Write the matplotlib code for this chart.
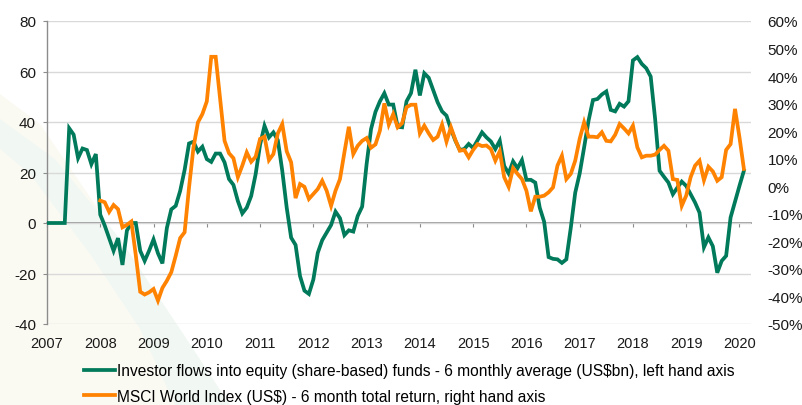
import matplotlib
matplotlib.use("Agg")
import matplotlib.pyplot as plt
from matplotlib.patches import Polygon
import numpy as np

plt.rcParams['font.family'] = ['Liberation Sans', 'DejaVu Sans']
plt.rcParams['axes.unicode_minus'] = False

# ---- data ----
years = list(range(2007, 2021))
flows_start_year = 2007  # monthly, starting Jan 2007
flows = [0, 0, 0, 0, 0, 37.5, 35, 25.7, 29.5, 28.9, 23.3, 27.3,
         3.3, -1, -6, -11, -6, -16.6, -3, 0, 0, -11, -15, -11,
         -6.5, -12, -16, -2, 5.4, 6.8, 12.7, 21, 31.5, 32.2, 28.3, 30.2,
         25.3, 24.2, 27.5, 27.5, 24, 17.4, 15.1, 8.7, 3.8, 6.1, 10.7, 19.3,
         31, 38.5, 33.9, 35.9, 32.8, 20.7, 6.1, -5.8, -8.7, -21, -26.8, -28.1,
         -22.4, -11.8, -6.8, -3.8, -0.8, 4.5, 1.9, -4.8, -2.9, -3.4, 2.8, 6.5,
         23.3, 37.2, 44, 48.2, 51.4, 46.9, 46.9, 38.1, 37.9, 48.2, 51.4, 60.7,
         50.5, 59.3, 57.5, 52.7, 47.8, 44.2, 42.5, 37.2, 32.6, 28.9, 29.3, 31.3,
         29.7, 32.8, 35.9, 33.9, 32.3, 29.3, 32.6, 22.6, 19.6, 24.4, 21.7, 24.9,
         17.1, 17.1, 16, 6.1, 0.5, -13.5, -14.2, -14.4, -15.8, -14.4, -1.9, 12,
         19.6, 29.9, 40.5, 48.7, 49.1, 50.9, 52.1, 44.8, 44.2, 47.2, 46.1, 48.2,
         64.4, 65.7, 63, 61.3, 58, 41.2, 20.7, 18.3, 16, 11.4, 14, 16.4,
         14.7, 11.4, 8.1, 4.1, -9.6, -5.7, -9.2, -19.7, -15, -13, 2.2, 8.5,
         14.7, 20.7]

msci_start_year = 2008  # monthly, starting Jan 2008
msci = [-5.2, -5.8, -9.3, -6.8, -8.3, -14.9, -14, -12.8, -25, -38.3, -39.3, -38.5,
        -37.3, -41.5, -36.9, -34.3, -31.2, -25.2, -18.8, -16.7, -0.4, 14.1, 23.2, 26.2,
        30.8, 47, 47, 31.7, 16.5, 12, 10.2, 3.3, 7.5, 12.3, 8.9, 10.7,
        17.2, 18, 9.5, 11.7, 19.2, 22.6, 12.7, 8.7, -4.3, 0.8, -0.2, -4.6,
        -2.8, -1, 2, -1.6, -7.1, -1.6, 2.6, 12.3, 21.6, 11.7, 14.7, 16.5,
        17.5, 14, 15.2, 20.2, 30.1, 22.4, 26.2, 21.4, 22.9, 28.7, 29.6, 29.6,
        19.2, 22, 19.2, 16.8, 18, 22.4, 16.2, 21.4, 16.8, 12.9, 13.2, 10.5,
        13.2, 15.3, 14.6, 14.8, 13.5, 9.3, 12.7, 3.3, -0.2, 6.6, 4.5, 2.6,
        -1.6, -9.1, -3.8, -3.8, -3.4, -2.2, -0.4, 7.5, 11.1, 2.6, 4.5, 9.3,
        17.2, 23.2, 18, 18, 17.8, 19.6, 16.5, 16.3, 18.7, 22.6, 21, 19.2,
        22, 14.1, 10.5, 11.1, 11.1, 11.5, 13.2, 14.7, 12.9, 2.6, 2.3, -7.1,
        -3.4, 3.3, 7.5, 9.3, 2.2, 7.1, 5.4, 2, 3.3, 13.2, 15.3, 28.1,
        17.8, 6.3]

left_ticks = list(range(-40, 81, 20))
right_ticks = list(range(-50, 61, 10))

label_flows = "Investor flows into equity (share-based) funds - 6 monthly average (US$bn), left hand axis"
label_msci = "MSCI World Index (US$) - 6 month total return, right hand axis"

GREEN = '#007A5A'
ORANGE = '#FF8200'

# ---- figure ----
W, H = 803, 406
fig = plt.figure(figsize=(W / 100, H / 100), dpi=100)

def figpoly(pts, color):
    p = Polygon([(x / W, 1 - y / H) for x, y in pts], closed=True,
                transform=fig.transFigure, facecolor=color, edgecolor='none', zorder=-5)
    fig.patches.append(p)

# faint decorative background swoosh
figpoly([(0, 95), (40, 125), (105, 220), (165, 320), (215, 406), (0, 406)], '#FBFAF2')
figpoly([(0, 150), (30, 175), (90, 255), (140, 330), (175, 406), (230, 406),
         (180, 330), (120, 240), (55, 160), (0, 120)], '#F1F7F3')

ax = fig.add_axes([47 / W, 1 - 325 / H, (751 - 47) / W, (325 - 22) / H])
ax.set_facecolor('none')

t_flows = flows_start_year + np.arange(len(flows)) / 12
t_msci = msci_start_year + np.arange(len(msci)) / 12

l1, = ax.plot(t_flows, flows, color=GREEN, lw=2.7, solid_joinstyle='miter', zorder=3)
ax.set_ylim(-40, 80)
ax.set_xlim(2007, 2007 + len(flows) / 12 + 0.05)
ax.set_yticks(left_ticks)
ax.set_yticklabels([str(v) for v in left_ticks])
ax.set_xticks(years)
ax.set_xticklabels([str(y) for y in years])
ax.grid(axis='y', color='#D9D9D9', lw=1.0, zorder=0)
ax.set_axisbelow(True)
for s in ['top', 'right', 'bottom']:
    ax.spines[s].set_visible(False)
ax.spines['left'].set_color('#8C8C8C')
ax.spines['left'].set_linewidth(1.0)
ax.tick_params(axis='y', direction='out', length=3, color='#8C8C8C', labelsize=11,
               pad=5, labelcolor='#1a1a1a')
ax.tick_params(axis='x', length=0, labelsize=10.5, pad=9, labelcolor='#1a1a1a')

# zero axis line with year tick marks
zero_frac = (0 - (-40)) / (80 - (-40))
sec = ax.secondary_xaxis(zero_frac)
sec.set_xticks(years)
sec.tick_params(axis='x', direction='out', length=3, color='#8C8C8C', labelbottom=False,
                labeltop=False)
sec.spines['bottom'].set_color('#8C8C8C')
sec.spines['bottom'].set_linewidth(1.2)
sec.spines['top'].set_visible(False)

ax2 = ax.twinx()
ax2.set_facecolor('none')
l2, = ax2.plot(t_msci, msci, color=ORANGE, lw=2.7, solid_joinstyle='miter', zorder=3)
ax2.set_ylim(-50, 60)
ax2.set_yticks(right_ticks)
ax2.set_yticklabels([f'{v}%' for v in right_ticks])
for s in ['top', 'right', 'bottom', 'left']:
    ax2.spines[s].set_visible(False)
ax2.tick_params(axis='y', length=0, labelsize=11, pad=12, labelcolor='#1a1a1a')

fig.legend(handles=[l1, l2], labels=[label_flows, label_msci], loc='upper left',
           bbox_to_anchor=(84 / W, 1 - 364 / H), frameon=False, fontsize=11.2,
           handlelength=2.0, handletextpad=0.1, borderpad=0, borderaxespad=0,
           labelspacing=0.7)

fig.savefig('out.png', dpi=100)
